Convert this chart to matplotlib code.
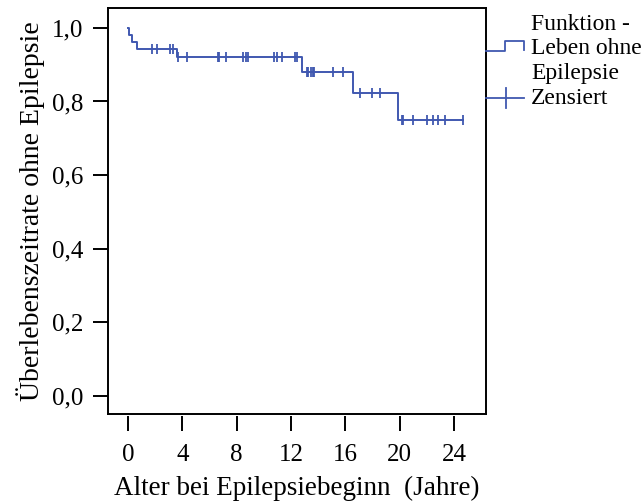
import numpy as np
import matplotlib.pyplot as plt
from matplotlib.ticker import FuncFormatter
from matplotlib.lines import Line2D

plt.rcParams['font.family'] = ['Liberation Serif', 'DejaVu Serif']

# Kaplan-Meier steps (time in years, survival)
step_times = [0.0, 0.05, 0.27, 0.64, 3.6, 12.84, 16.55, 19.9, 24.65]
step_surv = [1.0, 0.980, 0.962, 0.942, 0.920, 0.8805, 0.8235, 0.749, 0.749]

# censored observations
censor_times = [1.79, 2.16, 3.09, 3.34,
                3.66, 4.32, 6.6, 6.72, 7.22, 8.44, 8.69, 8.86, 10.75, 10.95, 11.32, 12.3, 12.42,
                13.16, 13.28, 13.48, 13.65, 13.72, 15.07, 15.85,
                17.08, 17.99, 18.56,
                20.15, 20.23, 20.96, 22.0, 22.48, 22.85, 23.34, 24.65]

x_ticks = [0, 4, 8, 12, 16, 20, 24]
y_ticks = [0.0, 0.2, 0.4, 0.6, 0.8, 1.0]

BLUE = '#4058b0'

fig = plt.figure(figsize=(6.42, 5.01), dpi=100)
ax = fig.add_axes([108/642, 1 - 414/501, 378/642, 406/501])

ax.step(step_times, step_surv, where='post', color=BLUE, lw=1.4)
idx = np.searchsorted(step_times, censor_times, side='right') - 1
censor_surv = np.array(step_surv)[idx]
ax.plot(censor_times, censor_surv, ls='none', marker='|', ms=6.5, mew=1.3, color=BLUE)

ax.set_xlim(-1.47, 26.36)
ax.set_ylim(-0.049, 1.054)
ax.set_xticks(x_ticks)
ax.set_yticks(y_ticks)
ax.yaxis.set_major_formatter(FuncFormatter(lambda v, p: f"{v:.1f}".replace('.', ',')))

for s in ax.spines.values():
    s.set_linewidth(1.4)
# x ticks sit slightly below the frame
ax.spines['bottom'].set_position(('outward', 1.5))
ax.spines['bottom'].set_visible(False)
ax.plot([0, 1], [0, 0], transform=ax.transAxes, color='black', lw=1.4, clip_on=False)

ax.tick_params(axis='both', length=11, width=1.4, labelsize=18, color='black')
ax.tick_params(axis='x', pad=9)
ax.tick_params(axis='y', pad=7)

ax.set_xlabel('Alter bei Epilepsiebeginn  (Jahre)', fontsize=19.5, labelpad=7)
ax.set_ylabel('Überlebenszeitrate ohne Epilepsie', fontsize=20, labelpad=5)

# legend outside the frame on the right
def fx(px):
    return px / 642

def fy(py):
    return 1 - py / 501

fig.add_artist(Line2D([fx(486), fx(505), fx(505), fx(524), fx(524)],
                      [fy(50.7), fy(50.7), fy(40.7), fy(40.7), fy(50)],
                      color=BLUE, lw=1.3))
fig.add_artist(Line2D([fx(486), fx(524)], [fy(98), fy(98)], color=BLUE, lw=1.3))
fig.add_artist(Line2D([fx(505.5), fx(505.5)], [fy(88), fy(108)], color=BLUE, lw=1.3))

for label, py in [('Funktion -', 24), ('Leben ohne', 48.5), ('Epilepsie', 73), ('Zensiert', 98.5)]:
    fig.text(fx(531), fy(py), label, fontsize=17, va='center', ha='left')

fig.savefig('out.png', dpi=100)
